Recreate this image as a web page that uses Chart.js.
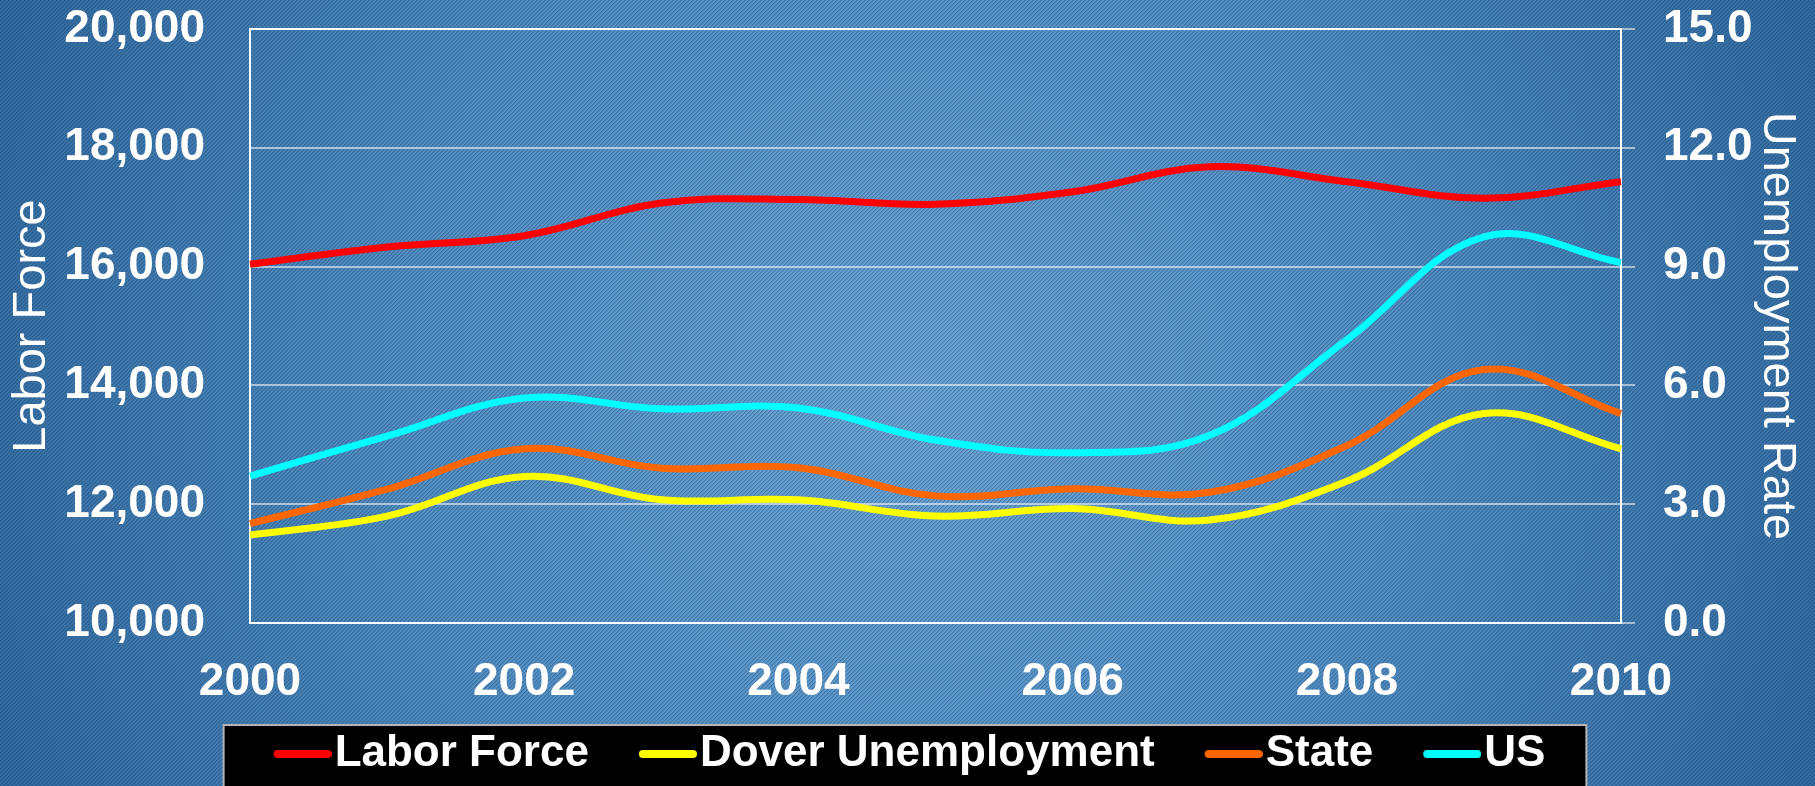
<!DOCTYPE html>
<html>
<head>
<meta charset="utf-8">
<script src="https://cdn.jsdelivr.net/npm/chart.js@4.4.1/dist/chart.umd.min.js"></script>
<style>
  html, body { margin: 0; padding: 0; background: #3a74a8; overflow: hidden; }
  canvas { display: block; }
</style>
</head>
<body>
<canvas id="c" width="1815" height="786"></canvas>
<script>
// ---- data ----
const years = ['2000', '2001', '2002', '2003', '2004', '2005', '2006', '2007', '2008', '2009', '2010'];
const laborForce        = [16040, 16330, 16520, 17070, 17130, 17050, 17260, 17680, 17430, 17150, 17430];
const doverUnemployment = [2.22, 2.70, 3.70, 3.11, 3.11, 2.70, 2.89, 2.60, 3.58, 5.29, 4.40];
const stateRate         = [2.51, 3.38, 4.40, 3.91, 3.92, 3.21, 3.39, 3.30, 4.48, 6.40, 5.29];
const usRate            = [3.71, 4.72, 5.68, 5.41, 5.43, 4.62, 4.30, 4.74, 7.15, 9.75, 9.10];
const seriesNames  = ['Labor Force', 'Dover Unemployment', 'State', 'US'];
const seriesColors = ['#ff0000', '#ffff00', '#ff6600', '#00ffff'];
const leftAxis  = { title: 'Labor Force', min: 10000, max: 20000, step: 2000 };
const rightAxis = { title: 'Unemployment Rate', min: 0, max: 15, step: 3 };

Chart.defaults.font.family = '"Liberation Sans", Arial, Helvetica, sans-serif';
Chart.defaults.color = '#ffffff';

const GRID = 'rgba(255,255,255,0.55)';
const LEGEND_FONT = 44;
const LEGEND_BOX = 59;
const LEGEND_PAD = 30;
const RIGHT_PAD = 16;

// legend marker: short thick rounded line, placed so it hugs the label text
function makeMarker(color) {
  const half = LEGEND_BOX / 2;
  const relStart = LEGEND_BOX + LEGEND_FONT / 2 - 61 - half;
  const relEnd = LEGEND_BOX + LEGEND_FONT / 2 - 3 - half;
  const W = Math.ceil(relEnd * 2);
  const c = document.createElement('canvas');
  c.width = W; c.height = 12;
  const g = c.getContext('2d');
  g.strokeStyle = color; g.lineWidth = 8; g.lineCap = 'round';
  g.beginPath(); g.moveTo(W / 2 + relStart + 4, 6); g.lineTo(W - 4, 6); g.stroke();
  return c;
}
const markers = seriesColors.map(makeMarker);

function stripePattern(ctx) {
  const t = document.createElement('canvas');
  t.width = 4; t.height = 4;
  const g = t.getContext('2d');
  const img = g.createImageData(4, 4);
  for (let y = 0; y < 4; y++) for (let x = 0; x < 4; x++) {
    const k = (x + y) % 4;
    const i = (y * 4 + x) * 4;
    img.data[i] = 25; img.data[i + 1] = 45; img.data[i + 2] = 75;
    img.data[i + 3] = k === 0 ? 80 : (k === 1 ? 40 : 0);
  }
  g.putImageData(img, 0, 0);
  return ctx.createPattern(t, 'repeat');
}

const decorPlugin = {
  id: 'decor',
  beforeDraw(chart) {
    const { ctx, width, height } = chart;
    ctx.save();
    const cx = width / 2, cy = height / 2;
    const g = ctx.createRadialGradient(cx, cy, 0, cx, cy, 1000);
    g.addColorStop(0, '#6ca7d8');
    g.addColorStop(0.5, '#5290c6');
    g.addColorStop(1, '#2f6aa0');
    ctx.fillStyle = g;
    ctx.fillRect(0, 0, width, height);
    ctx.fillStyle = stripePattern(ctx);
    ctx.fillRect(0, 0, width, height);

    // black legend panel
    const lg = chart.legend;
    if (lg && lg.legendHitBoxes && lg.legendHitBoxes.length) {
      const hb = lg.legendHitBoxes;
      const left = hb[0].left + LEGEND_BOX + LEGEND_FONT / 2 - 61 - 50;
      const last = hb[hb.length - 1];
      const right = last.left + last.width + 41;
      const top = 725;
      ctx.fillStyle = '#000000';
      ctx.fillRect(left, top, right - left, height - top + 5);
      ctx.strokeStyle = '#b4b4b4';
      ctx.lineWidth = 2;
      ctx.strokeRect(left, top, right - left, height - top + 5);
    }
    ctx.restore();
  },
  beforeDatasetsDraw(chart) {
    const { ctx, chartArea: a } = chart;
    ctx.save();
    // short tick marks outside the right axis
    const s = chart.scales.y1;
    ctx.strokeStyle = GRID;
    ctx.lineWidth = 2;
    s.ticks.forEach(t => {
      const py = Math.round(s.getPixelForValue(t.value));
      ctx.beginPath(); ctx.moveTo(a.right, py); ctx.lineTo(a.right + 14, py); ctx.stroke();
    });
    // white plot frame
    ctx.strokeStyle = '#ffffff';
    ctx.lineWidth = 2;
    ctx.strokeRect(a.left, a.top, a.right - a.left, a.bottom - a.top);
    ctx.restore();
  }
};

const seriesData = [laborForce, doverUnemployment, stateRate, usRate];
const datasets = seriesData.map((d, i) => ({
  label: seriesNames[i],
  data: d,
  yAxisID: i === 0 ? 'y' : 'y1',
  borderColor: seriesColors[i],
  backgroundColor: seriesColors[i],
  borderWidth: 7,
  pointRadius: 0,
  pointHoverRadius: 0,
  tension: 0.38,
  fill: false
}));

new Chart(document.getElementById('c'), {
  type: 'line',
  data: { labels: years, datasets },
  plugins: [decorPlugin],
  options: {
    responsive: false,
    animation: false,
    devicePixelRatio: 1,
    layout: { padding: { top: 29, left: 0, right: RIGHT_PAD, bottom: 0 } },
    plugins: {
      tooltip: { enabled: false },
      legend: {
        position: 'bottom',
        align: 'center',
        labels: {
          color: '#ffffff',
          font: { size: LEGEND_FONT, weight: 'bold' },
          usePointStyle: true,
          pointStyleWidth: LEGEND_BOX,
          padding: LEGEND_PAD,
          generateLabels(chart) {
            const items = Chart.defaults.plugins.legend.labels.generateLabels(chart);
            items.forEach((it, i) => { it.pointStyle = markers[i]; it.fontColor = '#ffffff'; });
            return items;
          }
        }
      }
    },
    scales: {
      x: {
        type: 'category',
        offset: false,
        grid: { display: false, drawTicks: false },
        border: { display: false },
        ticks: {
          autoSkip: false,
          maxRotation: 0,
          padding: 32,
          color: '#ffffff',
          font: { size: 46, weight: 'bold' },
          callback(v, i) { return i % 2 === 0 ? years[i] : ''; }
        },
        afterFit(s) { s.height = 79; }
      },
      y: {
        position: 'left',
        min: leftAxis.min, max: leftAxis.max,
        grid: { color: GRID, lineWidth: 2, drawTicks: true, tickLength: 45, tickColor: 'rgba(0,0,0,0)' },
        border: { display: false },
        ticks: {
          stepSize: leftAxis.step,
          padding: 0,
          color: '#ffffff',
          font: { size: 46, weight: 'bold' }
        },
        title: {
          display: true, text: leftAxis.title, color: '#ffffff',
          font: { size: 47, weight: 'normal' },
          padding: { top: 4, bottom: 0 }
        },
        afterFit(s) { s.width = 250; }
      },
      y1: {
        position: 'right',
        min: rightAxis.min, max: rightAxis.max,
        grid: { color: GRID, lineWidth: 2, drawOnChartArea: false, drawTicks: true, tickLength: 42, tickColor: 'rgba(0,0,0,0)' },
        border: { display: false },
        ticks: {
          stepSize: rightAxis.step,
          padding: 0,
          color: '#ffffff',
          font: { size: 46, weight: 'bold' },
          callback(v) { return Number(v).toFixed(1); }
        },
        title: {
          display: true, text: rightAxis.title, color: '#ffffff',
          font: { size: 47, weight: 'normal' },
          padding: { top: 10 - RIGHT_PAD, bottom: 0 }
        },
        afterFit(s) { s.width = 194 - RIGHT_PAD; }
      }
    }
  }
});
</script>
</body>
</html>
